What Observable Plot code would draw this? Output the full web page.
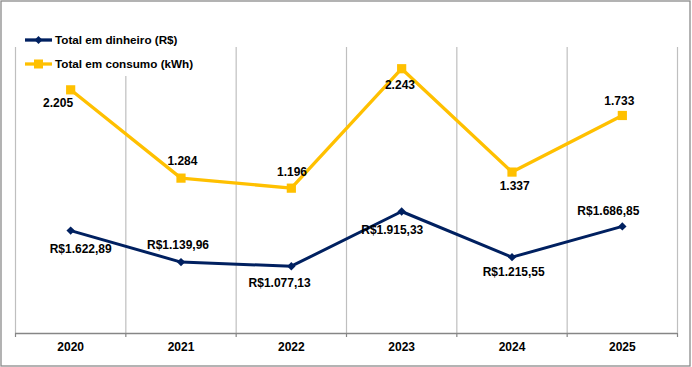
<!DOCTYPE html>
<html><head><meta charset="utf-8">
<script src="https://cdn.jsdelivr.net/npm/d3@7"></script>
<script src="https://cdn.jsdelivr.net/npm/@observablehq/plot@0.6"></script>
<style>
html,body{margin:0;padding:0;background:#fff;}
#chart svg{display:block;}
</style></head><body><div id="chart"></div>
<script>
// ---- data ----
const years = [2020, 2021, 2022, 2023, 2024, 2025];
const dinheiro = [1622.89, 1139.96, 1077.13, 1915.33, 1215.55, 1686.85];
// consumption markers as drawn in the picture
const consumo = [2058, 1284, 1196, 2243, 1337, 1833];
// consumption values as printed in the labels
const consumoLabels = [2205, 1284, 1196, 2243, 1337, 1733];
const seriesNames = ["Total em dinheiro (R$)", "Total em consumo (kWh)"];

// ---- layout / style ----
const W = 692, H = 367, mL = 15, mR = 15, mT = 47, mB = 34;
const dinheiroAxis = [46, 4428];
const consumoAxis = [-78, 2429];
const blue = "#002060", gold = "#FFC000";
const dinheiroOff = [[10,19],[-3,-16.7],[-11.7,17],[-9.4,19],[1.7,15],[-14,-15.3]];
const consumoOff = [[-12.6,13.7],[1.4,-16.6],[0.7,-15.6],[-1.7,16.7],[2.7,14],[-3,-14]];

const br = d3.formatLocale({decimal: ",", thousands: ".", grouping: [3], currency: ["R$", ""]});
const fmtMoney = br.format("$,.2f");
const fmtInt = br.format(",.0f");

const norm = (v, [a, b]) => (v - a) / (b - a);
const rowsD = years.map((y, i) => ({year: y, v: dinheiro[i], n: norm(dinheiro[i], dinheiroAxis), label: fmtMoney(dinheiro[i])}));
const rowsC = years.map((y, i) => ({year: y, v: consumo[i], n: norm(consumo[i], consumoAxis), label: fmtInt(consumoLabels[i])}));
const bounds = years.map(y => y - 0.5).concat([years[years.length - 1] + 0.5]);

const diamond = {draw(ctx, size) { const h = Math.sqrt(size / Math.PI); ctx.moveTo(0, -h); ctx.lineTo(h, 0); ctx.lineTo(0, h); ctx.lineTo(-h, 0); ctx.closePath(); }};
const square = {draw(ctx, size) { const h = Math.sqrt(size / Math.PI); ctx.rect(-h, -h, 2 * h, 2 * h); }};

const labelMarks = (rows, offs) => rows.map((d, i) => Plot.text([d], {x: "year", y: "n", text: "label", dx: offs[i][0], dy: offs[i][1], fill: "#000"}));

const plot = Plot.plot({
  width: W, height: H, marginLeft: mL, marginRight: mR, marginTop: mT, marginBottom: mB,
  style: {fontFamily: "'Liberation Sans', Arial, sans-serif", fontSize: "12px", fontWeight: "bold", color: "#000", background: "#fff"},
  x: {type: "linear", domain: [bounds[0], bounds[bounds.length - 1]], axis: null},
  y: {domain: [0, 1], axis: null},
  marks: [
    Plot.ruleX(bounds, {x: d => d, stroke: "#bfbfbf", strokeWidth: 1.2}),
    Plot.ruleX(bounds, {x: d => d, stroke: "#868686", strokeWidth: 1.2, insetTop: H - mT - mB, insetBottom: -4}),
    Plot.ruleY([0], {stroke: "#868686", strokeWidth: 1.3}),
    Plot.line(rowsC, {x: "year", y: "n", stroke: gold, strokeWidth: 3.3}),
    Plot.dot(rowsC, {x: "year", y: "n", symbol: square, r: 4.6, fill: gold, stroke: "none"}),
    Plot.line(rowsD, {x: "year", y: "n", stroke: blue, strokeWidth: 3}),
    Plot.dot(rowsD, {x: "year", y: "n", symbol: diamond, r: 4.2, fill: blue, stroke: "none"}),
    ...labelMarks(rowsC, consumoOff),
    ...labelMarks(rowsD, dinheiroOff),
    Plot.text(years, {x: d => d, frameAnchor: "bottom", dy: 17.5, text: d => String(d), fill: "#000"})
  ]
});

const svg = d3.select(plot);
// legend
const lg = svg.append("g");
lg.append("rect").attr("x", 20).attr("y", 28).attr("width", 185).attr("height", 48).attr("fill", "#fff");
const items = [{name: seriesNames[0], color: blue, sym: "diamond", y: 40}, {name: seriesNames[1], color: gold, sym: "square", y: 64}];
items.forEach(it => {
  lg.append("line").attr("x1", 25).attr("x2", 52).attr("y1", it.y).attr("y2", it.y).attr("stroke", it.color).attr("stroke-width", 3.3);
  if (it.sym === "diamond") lg.append("path").attr("d", `M38.5,${it.y-4}L42.5,${it.y}L38.5,${it.y+4}L34.5,${it.y}Z`).attr("fill", it.color);
  else lg.append("rect").attr("x", 34).attr("y", it.y - 4.5).attr("width", 9).attr("height", 9).attr("fill", it.color);
  lg.append("text").attr("x", 55).attr("y", it.y).attr("dy", "0.36em").attr("text-anchor", "start").attr("font-size", "11.7px").attr("fill", "#000").text(it.name);
});
// chart area border
svg.append("rect").attr("x", 1).attr("y", 1).attr("width", 689).attr("height", 365).attr("fill", "none").attr("stroke", "#8a8a8a").attr("stroke-width", 1.3);

document.getElementById("chart").appendChild(plot);
</script></body></html>
